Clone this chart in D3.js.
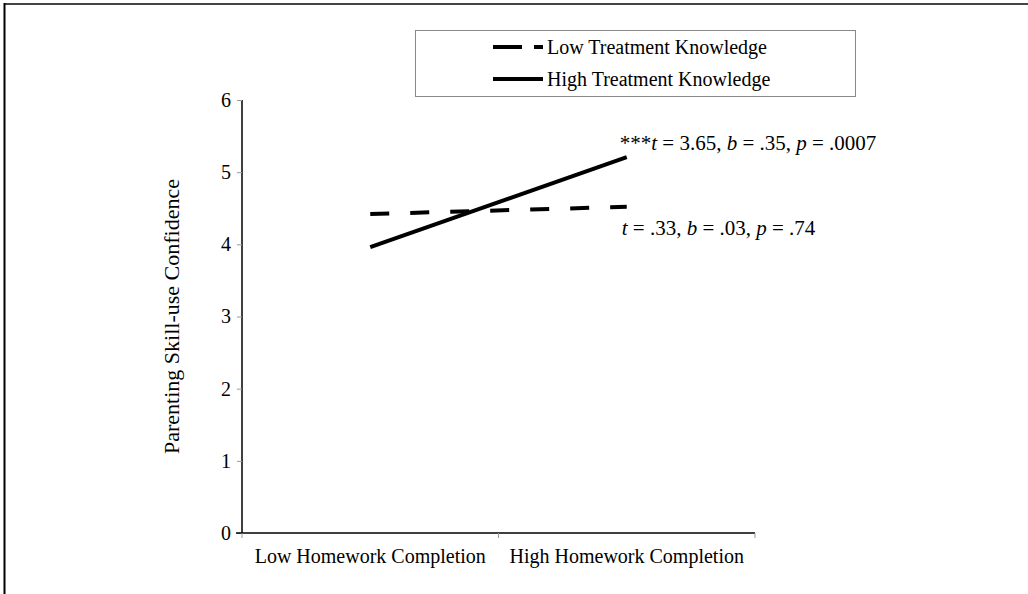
<!DOCTYPE html>
<html>
<head>
<meta charset="utf-8">
<script src="https://cdn.jsdelivr.net/npm/d3@7"></script>
<style>
  body { margin: 0; background: #fff; }
  text { font-family: "Liberation Serif", "Times New Roman", serif; fill: #000; }
</style>
</head>
<body>
<div id="chart"></div>
<script>
// data
let categories = ["Low Homework Completion", "High Homework Completion"];
let seriesNames = ["Low Treatment Knowledge", "High Treatment Knowledge"];
let lowKnowledge = [4.42, 4.52];
let highKnowledge = [3.96, 5.21];
let yTicks = [0, 1, 2, 3, 4, 5, 6];
let annotations = [
    {series: 1, parts: [["***", false], ["t", true], [" = 3.65, ", false], ["b", true], [" = .35, ", false], ["p", true], [" = .0007", false]]},
    {series: 0, parts: [["t", true], [" = .33, ", false], ["b", true], [" = .03, ", false], ["p", true], [" = .74", false]]}
];

let width = 1028, height = 594;
let margin = {top: 100, left: 242, right: 273, bottom: 61};

let svg = d3.select("#chart").append("svg")
    .attr("width", width)
    .attr("height", height);

// frame (cropped figure: only top and left edges)
svg.append("line").attr("x1", 4).attr("x2", width).attr("y1", 4).attr("y2", 4)
    .attr("stroke", "#444").attr("stroke-width", 2);
svg.append("line").attr("x1", 4.5).attr("x2", 4.5).attr("y1", 3).attr("y2", height)
    .attr("stroke", "#000").attr("stroke-width", 2);

let x = d3.scaleBand()
    .domain(categories)
    .range([margin.left, width - margin.right]);

let y = d3.scaleLinear()
    .domain([0, 6])
    .range([height - margin.bottom, margin.top]);

// y axis
let yAxis = svg.append("g")
    .attr("transform", "translate(" + margin.left + ",0)")
    .call(d3.axisLeft(y).tickValues(yTicks).tickFormat(d3.format("d")).tickSize(5).tickPadding(6));
yAxis.select(".domain").attr("stroke", "#000").attr("stroke-width", 1.5).attr("d", "M0," + y(6) + "V" + y(0));
yAxis.selectAll(".tick line").attr("stroke", "#999");
yAxis.selectAll(".tick text").style("font-size", "20px").style("font-family", "Liberation Serif");

// x axis
let xAxis = svg.append("g")
    .attr("transform", "translate(0," + y(0) + ")")
    .call(d3.axisBottom(x).tickSize(0).tickPadding(16));
xAxis.select(".domain").attr("stroke", "#000").attr("stroke-width", 1.5)
    .attr("d", "M" + (margin.left - 6) + ",0H" + (width - margin.right));
xAxis.selectAll(".tick text").style("font-size", "20px").style("font-family", "Liberation Serif");
// band edge ticks
let edges = [x.range()[0], x(categories[1]), x.range()[1]];
xAxis.selectAll(".edge").data(edges).enter().append("line")
    .attr("x1", d => d).attr("x2", d => d).attr("y1", 0).attr("y2", 5)
    .attr("stroke", "#999");

// y axis title
svg.append("text")
    .attr("transform", "translate(179," + y(3) + ") rotate(-90)")
    .attr("text-anchor", "middle")
    .style("font-size", "22px")
    .text("Parenting Skill-use Confidence");

let line = d3.line()
    .x((d, i) => x(categories[i]) + x.bandwidth() / 2)
    .y(d => y(d));

let allSeries = [lowKnowledge, highKnowledge];
let dashes = ["19,21", null];

svg.selectAll(".series").data(allSeries).enter().append("path")
    .attr("class", "series")
    .attr("d", line)
    .attr("fill", "none")
    .attr("stroke", "#000")
    .attr("stroke-width", 4)
    .attr("stroke-dasharray", (d, i) => dashes[i]);

// annotations next to the line ends
svg.selectAll(".note").data(annotations).enter().append("text")
    .attr("class", "note")
    .attr("x", d => x(categories[1]) + x.bandwidth() / 2 + (d.series === 1 ? -7 : -5))
    .attr("y", d => d.series === 1 ? y(allSeries[1][1]) - 7 : y(allSeries[0][1]) + 28)
    .style("font-size", "21px")
    .each(function(d) {
        let t = d3.select(this);
        d.parts.forEach(function(p) {
            t.append("tspan").text(p[0]).style("font-style", p[1] ? "italic" : "normal");
        });
    });

// legend
let legend = svg.append("g");
legend.append("rect")
    .attr("x", 415.5).attr("y", 30.5).attr("width", 440).attr("height", 66)
    .attr("fill", "#fff").attr("stroke", "#888").attr("stroke-width", 1);

let legRows = legend.selectAll(".leg").data(seriesNames).enter().append("g")
    .attr("transform", (d, i) => "translate(493," + (47 + i * 32) + ")");
legRows.append("path")
    .attr("d", (d, i) => i === 0 ? "M0,0H29M41,0H50" : "M0,0H50")
    .attr("stroke", "#000").attr("stroke-width", 4).attr("fill", "none");
legRows.append("text")
    .attr("x", 54).attr("y", 7)
    .style("font-size", "20px")
    .text(d => d);
</script>
</body>
</html>
